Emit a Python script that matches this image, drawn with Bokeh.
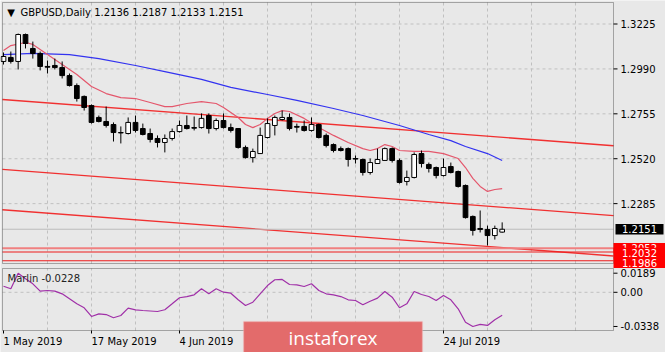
from bokeh.plotting import figure
from bokeh.models import ColumnDataSource, Range1d, Label, BoxAnnotation
from bokeh.core.properties import value
from bokeh.embed import file_html
from bokeh.resources import INLINE

# ---------------- data ----------------
opens = [1.3029, 1.3050, 1.3029, 1.3170, 1.3097, 1.3071, 1.3003, 1.3008, 1.2997, 1.2955,
         1.2903, 1.2846, 1.2798, 1.2736, 1.2715, 1.2699, 1.2657, 1.2652, 1.2710, 1.2678,
         1.2652, 1.2626, 1.2605, 1.2626, 1.2662, 1.2694, 1.2683, 1.2683, 1.2746, 1.2678,
         1.2720, 1.2683, 1.2678, 1.2579, 1.2526, 1.2547, 1.2631, 1.2694, 1.2725, 1.2736,
         1.2689, 1.2689, 1.2668, 1.2699, 1.2642, 1.2594, 1.2573, 1.2573, 1.2521, 1.2516,
         1.2448, 1.2495, 1.2511, 1.2573, 1.2511, 1.2401, 1.2422, 1.2547, 1.2490, 1.2474,
         1.2432, 1.2479, 1.2453, 1.2380, 1.2218, 1.2155, 1.2150, 1.2118, 1.2136]
highs = [1.3076, 1.3081, 1.3175, 1.3175, 1.3133, 1.3081, 1.3034, 1.3044, 1.3029, 1.2966,
         1.2914, 1.2851, 1.2804, 1.2746, 1.2793, 1.2710, 1.2689, 1.2736, 1.2746, 1.2704,
         1.2678, 1.2642, 1.2647, 1.2678, 1.2720, 1.2746, 1.2741, 1.2757, 1.2757, 1.2731,
         1.2757, 1.2704, 1.2680, 1.2589, 1.2573, 1.2683, 1.2731, 1.2746, 1.2772, 1.2757,
         1.2704, 1.2720, 1.2736, 1.2704, 1.2652, 1.2600, 1.2584, 1.2579, 1.2537, 1.2521,
         1.2521, 1.2573, 1.2579, 1.2579, 1.2521, 1.2458, 1.2553, 1.2563, 1.2500, 1.2479,
         1.2521, 1.2500, 1.2458, 1.2385, 1.2223, 1.2249, 1.2170, 1.2170, 1.2187]
lows = [1.3013, 1.3018, 1.2987, 1.3097, 1.3044, 1.2982, 1.2966, 1.2987, 1.2940, 1.2898,
        1.2819, 1.2772, 1.2704, 1.2710, 1.2683, 1.2610, 1.2600, 1.2647, 1.2657, 1.2642,
        1.2605, 1.2579, 1.2553, 1.2615, 1.2657, 1.2673, 1.2668, 1.2678, 1.2652, 1.2668,
        1.2678, 1.2657, 1.2573, 1.2521, 1.2500, 1.2547, 1.2626, 1.2642, 1.2720, 1.2668,
        1.2657, 1.2662, 1.2662, 1.2626, 1.2579, 1.2553, 1.2558, 1.2479, 1.2495, 1.2432,
        1.2437, 1.2495, 1.2511, 1.2500, 1.2390, 1.2380, 1.2417, 1.2474, 1.2448, 1.2417,
        1.2427, 1.2443, 1.2369, 1.2207, 1.2118, 1.2134, 1.2066, 1.2097, 1.2133]
closes = [1.3055, 1.3029, 1.3170, 1.3123, 1.3071, 1.3003, 1.2999, 1.2997, 1.2955, 1.2903,
          1.2835, 1.2788, 1.2710, 1.2715, 1.2694, 1.2657, 1.2655, 1.2710, 1.2668, 1.2647,
          1.2621, 1.2605, 1.2626, 1.2662, 1.2694, 1.2678, 1.2680, 1.2731, 1.2678, 1.2720,
          1.2683, 1.2668, 1.2579, 1.2526, 1.2558, 1.2642, 1.2704, 1.2736, 1.2736, 1.2678,
          1.2685, 1.2668, 1.2699, 1.2631, 1.2589, 1.2563, 1.2563, 1.2516, 1.2518, 1.2448,
          1.2500, 1.2516, 1.2573, 1.2511, 1.2396, 1.2422, 1.2542, 1.2495, 1.2469, 1.2432,
          1.2474, 1.2448, 1.2375, 1.2212, 1.2145, 1.2150, 1.2118, 1.2155, 1.2151]

# fast moving average (pink) - bar index / value
red_ma_x = [0, 1, 3, 4, 6, 8, 10, 12, 14, 16, 18, 20, 22, 23, 25, 27, 29, 30, 32, 33, 34,
            35, 36, 37, 38, 39, 41, 43, 45, 47, 49, 50, 51, 52, 53, 54, 56, 58, 60, 62, 63,
            64, 65, 66, 67, 68]
red_ma_y = [1.3086, 1.3112, 1.3128, 1.3118, 1.3065, 1.3013, 1.2961, 1.2898, 1.2861, 1.2840,
            1.2835, 1.2814, 1.2793, 1.2793, 1.2809, 1.2819, 1.2809, 1.2788, 1.2736, 1.2699,
            1.2683, 1.2699, 1.2731, 1.2757, 1.2772, 1.2767, 1.2731, 1.2683, 1.2642, 1.2605,
            1.2573, 1.2563, 1.2573, 1.2594, 1.2584, 1.2563, 1.2558, 1.2558, 1.2547, 1.2521,
            1.2474, 1.2417, 1.2375, 1.2349, 1.2359, 1.2364]
# slow moving average (blue)
blue_ma_x = [0, 4, 9, 13, 18, 22, 27, 31, 36, 40, 45, 49, 54, 58, 61, 63, 66, 68]
blue_ma_y = [1.3065, 1.3071, 1.3065, 1.3044, 1.3008, 1.2976, 1.2935, 1.2893, 1.2856, 1.2825,
             1.2783, 1.2746, 1.2694, 1.2647, 1.2615, 1.2584, 1.2547, 1.2511]

# descending channel (end points at the chart edges)
chan_x = [-0.14, 83.18]
chan_upper = [1.2830, 1.2588]
chan_middle = [1.2464, 1.2222]
chan_lower = [1.2253, 1.2011]

# horizontal levels
levels = [1.2052, 1.2032, 1.1986]
level_labels = ["1.2052", "1.2032", "1.1986"]

# Marlin oscillator
marlin = [0.0060, 0.0035, 0.0189, 0.0134, 0.0084, 0.0011, 0.0018, 0.0011, -0.0015, -0.0064,
          -0.0114, -0.0153, -0.0239, -0.0213, -0.0220, -0.0252, -0.0229, -0.0157, -0.0173, -0.0180,
          -0.0185, -0.0190, -0.0173, -0.0114, -0.0054, -0.0042, -0.0025, 0.0035, -0.0015, 0.0035,
          0.0001, -0.0009, -0.0074, -0.0131, -0.0098, -0.0015, 0.0067, 0.0124, 0.0127, 0.0077,
          0.0074, 0.0057, 0.0084, 0.0018, -0.0015, -0.0025, -0.0042, -0.0074, -0.0081, -0.0124,
          -0.0088, -0.0058, 0.0008, -0.0048, -0.0153, -0.0114, 0.0008, -0.0022, -0.0042, -0.0081,
          -0.0032, -0.0074, -0.0163, -0.0296, -0.0338, -0.0318, -0.0328, -0.0272, -0.0228]

price_ticks = [1.2285, 1.2520, 1.2755, 1.2990, 1.3225]
price_tick_labels = ["1.2285", "1.2520", "1.2755", "1.2990", "1.3225"]
marlin_ticks = [-0.0338, 0.0, 0.0189]
marlin_tick_labels = ["-0.0338", "0.00", "0.0189"]
date_ticks = [0, 12, 24, 36, 48, 60]
date_labels = ["1 May 2019", "17 May 2019", "4 Jun 2019", "20 Jun 2019", "8 Jul 2019", "24 Jul 2019"]
grid_ticks = [6 * i for i in range(1, 14)]

# ---------------- layout constants (pixels of the 665x352 page) ----------------
W, H = 665, 352
BG = "#e8e8e8"
FONT = "DejaVu Sans"
GRID = "#c0c0c0"
BAR_PX, X0_PX = 7.3333, 3.0              # bar spacing, x of the first bar
PRICE_PX, P_REF, P_REF_Y = 1911.0, 1.3225, 23.5
M_PX, M_ZERO_Y = 1011.0, 291.8
MAIN_BOX = (2, 613, 2, 263)               # left, right, top, bottom
IND_BOX = (2, 613, 268, 330)


def bx(px):
    return (px - X0_PX) / BAR_PX


def pm(py):
    return P_REF - (py - P_REF_Y) / PRICE_PX


def pi(py):
    return (M_ZERO_Y - py) / M_PX


XL, XR = bx(MAIN_BOX[0]), bx(MAIN_BOX[1])

bars = list(range(len(opens)))
bull = [i for i in bars if closes[i] >= opens[i]]
bear = [i for i in bars if closes[i] < opens[i]]

p = figure(width=W, height=H, x_range=Range1d(bx(0), bx(W)), y_range=Range1d(pm(H), pm(0)),
           output_backend="svg", toolbar_location=None,
           x_axis_location=None, y_axis_location=None, min_border=0,
           background_fill_color=BG, border_fill_color=BG, outline_line_color=None)
p.extra_y_ranges = {"marlin": Range1d(pi(H), pi(0))}
p.xgrid.grid_line_color = None
p.ygrid.grid_line_color = None


def box(b, **kw):
    l, r, t, btm = b
    return BoxAnnotation(left=l, right=r, top=t, bottom=btm, left_units="canvas",
                         right_units="canvas", top_units="canvas", bottom_units="canvas", **kw)


# ================= main price panel =================
yb, yt = pm(MAIN_BOX[3]), pm(MAIN_BOX[2])
n = len(grid_ticks)
p.segment(x0=grid_ticks, y0=[yb] * n, x1=grid_ticks, y1=[yt] * n,
          line_color=GRID, line_dash="3 3", line_width=1)
m = len(price_ticks)
p.segment(x0=[XL] * m, y0=price_ticks, x1=[XR] * m, y1=price_ticks,
          line_color=GRID, line_dash="3 3", line_width=1)
# price scale
p.segment(x0=[XR] * m, y0=price_ticks, x1=[bx(617)] * m, y1=price_ticks,
          line_color="#000000", line_width=1)
p.text(x=[bx(620)] * m, y=price_ticks, text=price_tick_labels, text_font=value(FONT),
       text_font_size="10px", text_baseline="middle", text_align="left", text_color="#000000")

# channel
for ys in (chan_upper, chan_middle, chan_lower):
    p.line(chan_x, ys, line_color="#f21c1c", line_width=1.3, line_alpha=0.9)
# levels and bid line
k = len(levels)
p.segment(x0=[XL] * k, y0=levels, x1=[XR] * k, y1=levels,
          line_color=["#f08080", "#ee1c1c", "#ee1c1c"], line_width=[2, 1.2, 1.2])
p.segment(x0=[XL], y0=[closes[-1]], x1=[XR], y1=[closes[-1]], line_color="#bcbcbc", line_width=1)

# moving averages
p.line(blue_ma_x, blue_ma_y, line_color="#3333f0", line_width=1.2)
p.line(red_ma_x, red_ma_y, line_color="#e4576c", line_width=1.2)

# candles
wick_src = ColumnDataSource(dict(x=bars, low=lows, high=highs))
p.segment(x0="x", y0="low", x1="x", y1="high", source=wick_src, line_color="#000000", line_width=1)
bull_src = ColumnDataSource(dict(x=bull, top=[closes[i] for i in bull], bottom=[opens[i] for i in bull]))
bear_src = ColumnDataSource(dict(x=bear, top=[opens[i] for i in bear], bottom=[closes[i] for i in bear]))
p.vbar(x="x", top="top", bottom="bottom", width=0.64, source=bull_src,
       fill_color="#ffffff", line_color="#000000", line_width=1)
p.vbar(x="x", top="top", bottom="bottom", width=0.64, source=bear_src,
       fill_color="#000000", line_color="#000000", line_width=1)

p.add_layout(box(MAIN_BOX, fill_color=None, line_color="#000000", line_width=1))

# title
p.add_layout(Label(x=bx(10.5), y=pm(12), text="\u25bc", text_font=FONT, text_font_size="10px",
                   text_align="center", text_baseline="middle", text_color="#000000"))
title = "GBPUSD,Daily  %.4f %.4f %.4f %.4f" % (opens[-1], highs[-1], lows[-1], closes[-1])
p.add_layout(Label(x=bx(20), y=pm(12), text=title, text_font=FONT, text_font_size="10px",
                   text_align="left", text_baseline="middle", text_color="#000000"))

# price tags on the right scale
TAG_H = 0.0027
PX_P = 1.0 / PRICE_PX
p.add_layout(BoxAnnotation(left=615, right=663, left_units="canvas", right_units="canvas",
                           top=closes[-1] + TAG_H, bottom=closes[-1] - TAG_H,
                           fill_color="#000000", fill_alpha=1, line_color=None, level="overlay"))
p.add_layout(Label(x=bx(639), y=closes[-1], text="%.4f" % closes[-1],
                   text_font=FONT, text_font_size="10px", text_color="#ffffff",
                   text_baseline="middle", text_align="center", level="overlay"))
tag_shift = [0, 1, 2]
for lv, lab, sh in zip(levels, level_labels, tag_shift):
    c = lv - sh * PX_P
    p.add_layout(BoxAnnotation(left=613, right=665, left_units="canvas", right_units="canvas",
                               top=c + TAG_H, bottom=c - TAG_H,
                               fill_color="#ff0000", fill_alpha=1, line_color=None, level="overlay"))
    p.add_layout(Label(x=bx(639), y=c, text=lab,
                       text_font=FONT, text_font_size="10px", text_color="#ffffff",
                       text_baseline="middle", text_align="center", level="overlay"))

# ================= Marlin panel =================
iyb, iyt = pi(IND_BOX[3]), pi(IND_BOX[2])
p.segment(x0=grid_ticks, y0=[iyb] * n, x1=grid_ticks, y1=[iyt] * n, y_range_name="marlin",
          line_color=GRID, line_dash="3 3", line_width=1)
p.segment(x0=[XL], y0=[0.0], x1=[XR], y1=[0.0], y_range_name="marlin",
          line_color=GRID, line_dash="3 3", line_width=1)
q = len(marlin_ticks)
p.segment(x0=[XR] * q, y0=marlin_ticks, x1=[bx(617)] * q, y1=marlin_ticks, y_range_name="marlin",
          line_color="#000000", line_width=1)
p.text(x=[bx(620)] * q, y=marlin_ticks, text=marlin_tick_labels, y_range_name="marlin",
       text_font=value(FONT), text_font_size="10px", text_baseline="middle", text_align="left",
       text_color="#000000")
# date scale
d = len(date_ticks)
p.segment(x0=date_ticks, y0=[iyb] * d, x1=date_ticks, y1=[pi(333)] * d, y_range_name="marlin",
          line_color="#000000", line_width=1)
p.text(x=date_ticks, y=[pi(341)] * d, text=date_labels, y_range_name="marlin",
       text_font=value(FONT), text_font_size="10px", text_baseline="middle", text_align="left",
       text_color="#000000")

p.line(bars, marlin, y_range_name="marlin", line_color="#a030a8", line_width=1.2)

p.add_layout(box(IND_BOX, fill_color=None, line_color="#000000", line_width=1))
p.add_layout(Label(x=bx(7), y=pi(277.7), y_range_name="marlin", text="Marlin %.4f" % marlin[-1],
                   text_font=FONT, text_font_size="10px", text_baseline="middle",
                   text_align="left", text_color="#222222"))

# instaforex badge
p.add_layout(box((243, 422, 321, 360), fill_color="#e36b6b", fill_alpha=1, line_color="#f6cccc",
                 line_width=1.5, level="overlay"))
p.add_layout(Label(x=bx(332.5), y=pi(337), y_range_name="marlin", text="instaforex",
                   text_font="Open Sans", text_font_size="19px", text_color="#ffffff",
                   text_align="center", text_baseline="middle", level="overlay"))

open("out.html", "w").write(file_html(p, INLINE))
